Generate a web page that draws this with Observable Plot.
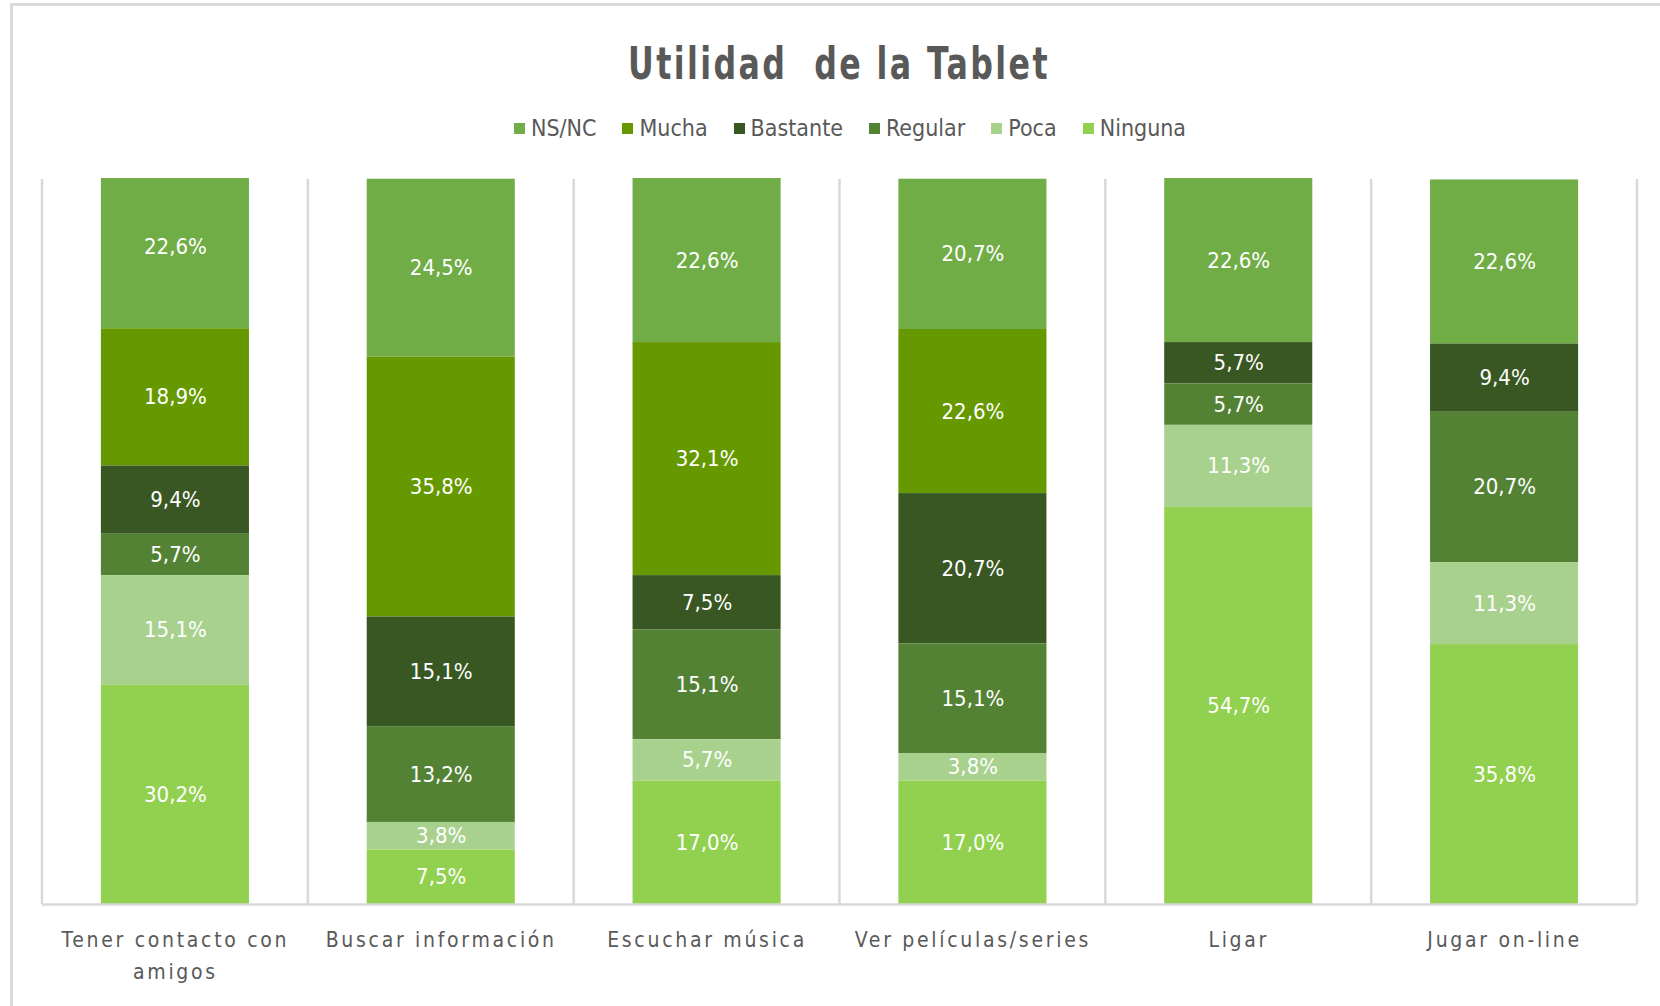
<!DOCTYPE html>
<html>
<head>
<meta charset="utf-8">
<script src="https://cdn.jsdelivr.net/npm/d3@7"></script>
<script src="https://cdn.jsdelivr.net/npm/@observablehq/plot@0.6"></script>
<style>
  html, body { margin: 0; padding: 0; background: #fff; }
  body { width: 1660px; height: 1006px; overflow: hidden; position: relative;
         font-family: "Liberation Sans Narrow", "DejaVu Sans Condensed", "Open Sans", sans-serif; }
  #frame { position: absolute; left: 10px; top: 3px; width: 1700px; height: 1100px;
           border-left: 3px solid #d9d9d9; border-top: 3px solid #d9d9d9; box-sizing: border-box; }
  #title { position: absolute; left: 9px; width: 1660px; top: 42px; text-align: center;
           font-size: 44px; line-height: 44px; font-weight: bold; color: #595959; letter-spacing: 3px;
           white-space: pre; transform: scaleX(0.8); transform-origin: 830px 50%; }
  #legend { position: absolute; left: 20px; width: 1660px; top: 117px; display: flex; justify-content: center;
            align-items: center; font-size: 23px; line-height: 23px; color: #595959; }
  #legend .item { display: flex; align-items: center; margin: 0 13px; }
  #legend .sw { width: 11px; height: 11px; margin-right: 6px; }
  #chart { position: absolute; left: 0; top: 150px; }
  #chart svg [aria-label="x-axis tick label"] text { letter-spacing: 2.7px; }
</style>
</head>
<body>
<div id="frame"></div>
<div id="title"></div>
<div id="legend"></div>
<div id="chart"></div>
<script>
const titleText = "Utilidad  de la Tablet";
const categories = ["Tener contacto con amigos", "Buscar información", "Escuchar música", "Ver películas/series", "Ligar", "Jugar on-line"];
const tickLabels = ["Tener contacto con\namigos", "Buscar información", "Escuchar música", "Ver películas/series", "Ligar", "Jugar on-line"];
const series = ["NS/NC", "Mucha", "Bastante", "Regular", "Poca", "Ninguna"];
const seriesColors = ["#70ad47", "#669900", "#385723", "#548235", "#a9d18e", "#92d050"];
const stackOrder = ["Ninguna", "Poca", "Regular", "Bastante", "Mucha", "NS/NC"];

const nsnc     = [22.6, 24.5, 22.6, 20.7, 22.6, 22.6];
const mucha    = [18.9, 35.8, 32.1, 22.6, 0, 0];
const bastante = [9.4, 15.1, 7.5, 20.7, 5.7, 9.4];
const regular  = [5.7, 13.2, 15.1, 15.1, 5.7, 20.7];
const poca     = [15.1, 3.8, 5.7, 3.8, 11.3, 11.3];
const ninguna  = [30.2, 7.5, 17.0, 17.0, 54.7, 35.8];

const valuesBySeries = [nsnc, mucha, bastante, regular, poca, ninguna];
const rows = [];
series.forEach((s, si) => {
  categories.forEach((c, ci) => rows.push({cat: c, series: s, value: valuesBySeries[si][ci]}));
});
const fmt = v => v.toFixed(1).replace(".", ",") + "%";

document.getElementById("title").textContent = titleText;
const legend = d3.select("#legend");
series.forEach((s, i) => {
  const it = legend.append("div").attr("class", "item");
  it.append("div").attr("class", "sw").style("background", seriesColors[i]);
  it.append("span").text(s);
});

const fontStack = '"Liberation Sans Narrow", "DejaVu Sans Condensed", "Open Sans", sans-serif';

function bandGrid(index, scales, values, dimensions) {
  const x = scales.x;
  const step = typeof x.step === "function" ? x.step() : x.bandwidth();
  const bw = x.bandwidth();
  const edges = categories.map(c => x(c) - (step - bw) / 2);
  edges.push(x(categories[categories.length - 1]) + bw + (step - bw) / 2);
  const g = d3.create("svg:g");
  g.selectAll("line").data(edges).join("line")
    .attr("x1", d => d).attr("x2", d => d)
    .attr("y1", dimensions.marginTop + 1)
    .attr("y2", dimensions.height - dimensions.marginBottom)
    .attr("stroke", "#d9d9d9").attr("stroke-width", 2.5);
  return g.node();
}

const chart = Plot.plot({
  width: 1660,
  height: 856,
  marginLeft: 42,
  marginRight: 23,
  marginTop: 28,
  marginBottom: 102,
  style: {fontFamily: fontStack, background: "transparent", overflow: "visible"},
  x: {domain: categories, paddingInner: 0.443, paddingOuter: 0.2215, round: false, label: null, axis: null},
  y: {domain: [0, 100], clamp: true, axis: null},
  color: {domain: series, range: seriesColors},
  marks: [
    bandGrid,
    Plot.barY(rows, Plot.stackY({x: "cat", y: "value", fill: "series", order: stackOrder})),
    Plot.text(rows.filter(d => d.value > 0), Plot.stackY({
      x: "cat", y: "value", z: "series", order: stackOrder,
      text: d => fmt(d.value), fill: "#ffffff", fontSize: 22
    })),
    Plot.ruleY([0], {stroke: "#d9d9d9", strokeWidth: 2.5}),
    Plot.axisX({
      tickSize: 0, tickPadding: 20, fontSize: 21, fill: "#595959", lineHeight: 1.52, label: null,
      tickFormat: d => tickLabels[categories.indexOf(d)]
    })
  ]
});
document.getElementById("chart").appendChild(chart);
</script>
</body>
</html>
